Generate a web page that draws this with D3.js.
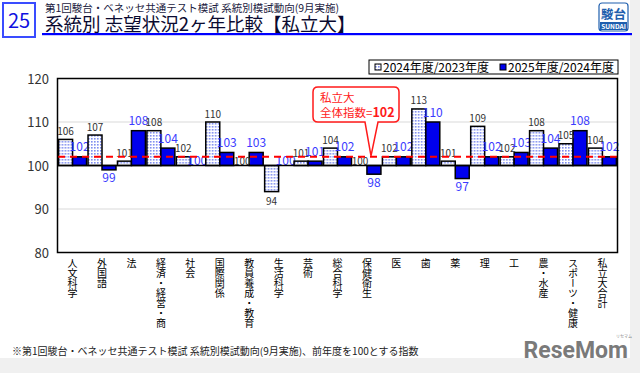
<!DOCTYPE html>
<html>
<head>
<meta charset="utf-8">
<script src="https://cdn.jsdelivr.net/npm/d3@7"></script>
<style>
  body { margin: 0; background: #f0f0f0; }
  svg { display: block; font-family: "Noto Sans CJK JP", "Noto Sans", sans-serif; }
</style>
</head>
<body>
<div id="chart"></div>
<script>
// categories and values (index, previous year = 100)
var categories = ['人文科学', '外国語', '法', '経済・経営・商', '社会', '国際関係', '教員養成・教育',
	'生活科学', '芸術', '総合科学', '保健衛生', '医', '歯', '薬', '理', '工', '農・水産', 'スポーツ・健康', '私立大合計'];
var series = ['2024年度/2023年度', '2025年度/2024年度'];
var values2024 = [106, 107, 101, 108, 102, 110, 100, 94, 101, 104, 100, 102, 113, 101, 109, 102, 108, 105, 104];
var values2025 = [102, 99, 108, 104, 100, 103, 103, 100, 101, 102, 98, 102, 110, 97, 102, 103, 104, 108, 102];
var yTicks = [80, 90, 100, 110, 120];
var totalIndex = 102;

var width = 640, height = 373;
var plot = {left: 58, right: 617, top: 78.5, bottom: 252.5};

var svg = d3.select('#chart').append('svg')
	.attr('width', width)
	.attr('height', height);

svg.append('rect').attr('width', 630).attr('height', 358).attr('fill', '#fff');

// dotted fill for the light bars
var defs = svg.append('defs');
var pat = defs.append('pattern').attr('id', 'dots')
	.attr('width', 3).attr('height', 3).attr('patternUnits', 'userSpaceOnUse');
pat.append('rect').attr('width', 3).attr('height', 3).attr('fill', '#fff');
pat.append('rect').attr('width', 1.6).attr('height', 1.6).attr('fill', '#7d8cf0');

// ---- header ----
svg.append('rect').attr('x', 3).attr('y', 3).attr('width', 32).attr('height', 34)
	.attr('fill', '#fff').attr('stroke', '#3a4cff').attr('stroke-width', 2);
svg.append('text').attr('x', 19).attr('y', 28).attr('text-anchor', 'middle')
	.attr('font-size', 20).attr('fill', '#1010e0').text('25');
svg.append('text').attr('x', 45).attr('y', 12).attr('font-size', 10.5).attr('fill', '#1a1a40')
	.text('第1回駿台・ベネッセ共通テスト模試 系統別模試動向(9月実施)');
svg.append('text').attr('x', 45).attr('y', 31).attr('font-size', 18.5).attr('fill', '#0a0a30')
	.text('系統別 志望状況2ヶ年比較【私立大】');
svg.append('rect').attr('x', 42).attr('y', 33).attr('width', 590).attr('height', 2.2).attr('fill', '#0000ff');

var logo = svg.append('g');
logo.append('rect').attr('x', 599).attr('y', 3).attr('width', 29).attr('height', 28).attr('rx', 3)
	.attr('fill', '#fff').attr('stroke', '#1f5fae').attr('stroke-width', 1.2);
logo.append('text').attr('x', 613.5).attr('y', 19).attr('text-anchor', 'middle')
	.attr('font-size', 12.5).attr('font-weight', 'bold').attr('fill', '#1f5fae').text('駿台');
logo.append('rect').attr('x', 600).attr('y', 22).attr('width', 27).attr('height', 8).attr('fill', '#1f5fae');
logo.append('text').attr('x', 613.5).attr('y', 29).attr('text-anchor', 'middle')
	.attr('font-size', 6.5).attr('font-weight', 'bold').attr('fill', '#fff').text('SUNDAI');

// ---- scales ----
var y = d3.scaleLinear().domain([80, 120]).range([plot.bottom, plot.top]);
var x0 = d3.scaleBand().domain(categories).range([plot.left, plot.right]).paddingInner(0.05).paddingOuter(0.02);
var x1 = d3.scaleBand().domain(series).range([0, x0.bandwidth()]);

// gridlines
svg.selectAll('.grid').data(yTicks.filter(function(d) { return d > 80 && d < 120 && d != 100; }))
	.enter().append('line')
	.attr('x1', plot.left).attr('x2', plot.right)
	.attr('y1', function(d) { return y(d); }).attr('y2', function(d) { return y(d); })
	.attr('stroke', '#d9d9d9').attr('stroke-width', 1);

// y axis labels
svg.selectAll('.ytick').data(yTicks).enter().append('text')
	.attr('x', 49).attr('y', function(d) { return y(d) + 5; })
	.attr('text-anchor', 'end').attr('font-size', 13).attr('fill', '#333')
	.text(function(d) { return d; });

// bars
var data = categories.map(function(c, i) {
	return {cat: c, vals: [{s: series[0], v: values2024[i]}, {s: series[1], v: values2025[i]}]};
});

var g = svg.selectAll('.cat').data(data).enter().append('g')
	.attr('transform', function(d) { return 'translate(' + x0(d.cat) + ',0)'; });

g.selectAll('rect').data(function(d) { return d.vals; }).enter().append('rect')
	.filter(function(d) { return d.v != 100; })
	.attr('x', function(d) { return x1(d.s); })
	.attr('width', x1.bandwidth())
	.attr('y', function(d) { return y(Math.max(d.v, 100)); })
	.attr('height', function(d) { return Math.abs(y(d.v) - y(100)); })
	.attr('fill', function(d, i) { return d.s == series[0] ? 'url(#dots)' : '#0000ee'; })
	.attr('stroke', '#000').attr('stroke-width', 1.5);

// baseline at 100
svg.append('line').attr('x1', plot.left).attr('x2', plot.right)
	.attr('y1', y(100)).attr('y2', y(100)).attr('stroke', '#000').attr('stroke-width', 1.5);

// average line
svg.append('line').attr('x1', plot.left).attr('x2', plot.right)
	.attr('y1', y(totalIndex)).attr('y2', y(totalIndex))
	.attr('stroke', '#ff0000').attr('stroke-width', 2).attr('stroke-dasharray', '7,5');

// value labels
g.selectAll('.lbl').data(function(d) { return d.vals; }).enter().append('text')
	.attr('x', function(d) { return x1(d.s) + x1.bandwidth() / 2; })
	.attr('y', function(d) {
		var light = d.s == series[0];
		if (d.v == 100) return y(100) - 1;
		if (d.v > 100) return y(d.v) - (light ? 4.5 : 5.5);
		return y(d.v) + (light ? 13 : 12.5);
	})
	.attr('text-anchor', 'middle')
	.attr('font-size', function(d) { return d.s == series[0] ? 10 : 12; })
	.attr('fill', function(d) { return d.s == series[0] ? '#333' : '#3b3bff'; })
	.text(function(d) { return d.v; });

// plot frame
svg.append('rect').attr('x', plot.left - 0.5).attr('y', plot.top).attr('width', plot.right - plot.left + 1)
	.attr('height', plot.bottom - plot.top).attr('fill', 'none').attr('stroke', '#000').attr('stroke-width', 1.5);

// category labels (vertical)
svg.selectAll('.xlab').data(categories).enter().append('text')
	.attr('x', function(d) { return x0(d) + x0.bandwidth() / 2; })
	.attr('y', 258)
	.attr('font-size', 10)
	.attr('fill', '#000')
	.style('writing-mode', 'vertical-rl')
	.text(function(d) { return d; });

// legend
var lg = svg.append('g');
lg.append('rect').attr('x', 369).attr('y', 60).attr('width', 249).attr('height', 14)
	.attr('fill', '#fff').attr('stroke', '#000').attr('stroke-width', 1);
var legendX = [375, 500];
series.forEach(function(s, i) {
	lg.append('rect').attr('x', legendX[i]).attr('y', 64).attr('width', 6).attr('height', 6)
		.attr('fill', i == 0 ? 'url(#dots)' : '#0000ee').attr('stroke', '#000').attr('stroke-width', 1);
	lg.append('text').attr('x', legendX[i] + 8).attr('y', 72).attr('font-size', 12).attr('fill', '#000').text(s);
});

// callout
var cx = 371;
var callout = 'M318,87 H394 Q399,87 399,92 V117 Q399,122 394,122 H378 L' + cx + ',' + (y(totalIndex) - 1) +
	' L365,122 H318 Q313,122 313,117 V92 Q313,87 318,87 Z';
svg.append('path').attr('d', callout).attr('fill', '#fff').attr('stroke', '#ff1a1a').attr('stroke-width', 1.5);
svg.append('text').attr('x', 320).attr('y', 102).attr('font-size', 11.5).attr('fill', '#ff1a1a').text('私立大');
var t2 = svg.append('text').attr('x', 320).attr('y', 117).attr('font-size', 11.5).attr('fill', '#ff1a1a');
t2.append('tspan').text('全体指数=');
t2.append('tspan').attr('font-weight', 'bold').attr('font-size', 12.5).text(totalIndex);

// footnote
svg.append('text').attr('x', 12).attr('y', 355).attr('font-size', 10).attr('fill', '#222')
	.text('※第1回駿台・ベネッセ共通テスト模試 系統別模試動向(9月実施)、前年度を100とする指数');

// watermark
svg.append('text').attr('x', 628).attr('y', 358).attr('text-anchor', 'end')
	.attr('font-family', 'Roboto, sans-serif').attr('font-weight', 'bold').attr('font-size', 23)
	.attr('fill', '#7a7a7a').text('ReseMom');
svg.append('text').attr('x', 616).attr('y', 338).attr('font-size', 4).attr('fill', '#888').text('リセマム');
</script>
</body>
</html>
